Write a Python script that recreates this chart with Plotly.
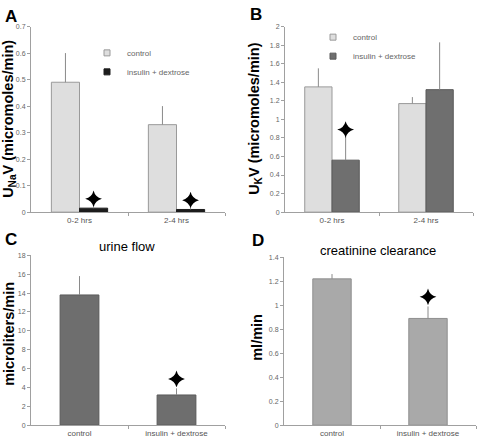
import plotly.graph_objects as go

# ---------------- data ----------------
periods = ["0-2 hrs", "2-4 hrs"]
groups = ["control", "insulin + dextrose"]

una_control = [0.49, 0.33]
una_control_err = [0.11, 0.07]
una_insulin = [0.015, 0.010]
una_insulin_err = [0.005, 0.005]
una_star = [0.05, 0.045]

uk_control = [1.35, 1.17]
uk_control_err = [0.20, 0.07]
uk_insulin = [0.56, 1.32]
uk_insulin_err = [0.25, 0.51]
uk_star = [0.89, None]

flow_values = [13.8, 3.2]
flow_err = [2.0, 0.7]
flow_star = [None, 4.9]

ccr_values = [1.22, 0.89]
ccr_err = [0.04, 0.10]
ccr_star = [None, 1.07]

# ---------------- style ----------------
FONT = "Liberation Sans, Arial, sans-serif"
W, H = 477, 438
BARGAP = 0.42
CTRL = "#dedede"
EDGE = "#9a9a9a"
AXC = "#a0a0a0"
INS_A = "#1c1c1c"
INS_B = "#6f6f6f"

def px_x(a, b):
    return [a / W, b / W]

def px_y(top, bottom):
    return [(H - bottom) / H, (H - top) / H]

xs = list(range(len(periods)))
half = (1 - BARGAP) / 4  # center offset of each bar in a 2-bar group

fig = go.Figure()

def err(vals):
    return dict(type="data", array=vals, arrayminus=[0] * len(vals), symmetric=False,
                color="#8a8a8a", thickness=1, width=0)

# Panel A
fig.add_trace(go.Bar(x=xs, y=una_control, name=groups[0], marker=dict(color=CTRL, line=dict(color=EDGE, width=1)),
                     error_y=err(una_control_err), xaxis="x", yaxis="y", showlegend=False))
fig.add_trace(go.Bar(x=xs, y=una_insulin, name=groups[1], marker=dict(color=INS_A, line=dict(color=INS_A, width=1)),
                     error_y=err(una_insulin_err), xaxis="x", yaxis="y", showlegend=False))
# Panel B
fig.add_trace(go.Bar(x=xs, y=uk_control, name=groups[0], marker=dict(color=CTRL, line=dict(color=EDGE, width=1)),
                     error_y=err(uk_control_err), xaxis="x2", yaxis="y2", showlegend=False))
fig.add_trace(go.Bar(x=xs, y=uk_insulin, name=groups[1], marker=dict(color=INS_B, line=dict(color="#5a5a5a", width=1)),
                     error_y=err(uk_insulin_err), xaxis="x2", yaxis="y2", showlegend=False))
# Panel C
fig.add_trace(go.Bar(x=xs, y=flow_values, width=0.4, marker=dict(color="#6e6e6e", line=dict(color="#5a5a5a", width=1)),
                     error_y=err(flow_err), xaxis="x3", yaxis="y3", showlegend=False))
# Panel D
fig.add_trace(go.Bar(x=xs, y=ccr_values, width=0.4, marker=dict(color="#a9a9a9", line=dict(color="#8f8f8f", width=1)),
                     error_y=err(ccr_err), xaxis="x4", yaxis="y4", showlegend=False))

# legend entries (small square keys, as in the original)
for leg, ax, ay, cols in [("legend", "x", "y", [(CTRL, EDGE), (INS_A, INS_A)]),
                          ("legend2", "x2", "y2", [(CTRL, EDGE), (INS_B, "#5a5a5a")])]:
    for k, (fc, lc) in enumerate(cols):
        fig.add_trace(go.Scatter(x=[None], y=[None], mode="markers", name=groups[k],
                                 marker=dict(symbol="square", size=6, color=fc, line=dict(color=lc, width=1)),
                                 xaxis=ax, yaxis=ay, legend=leg, legendgroup=f"{leg}{k}"))

star = dict(symbol="star-diamond", size=12, color="black", line=dict(width=0))
fig.add_trace(go.Scatter(x=[i + half for i in xs], y=una_star, mode="markers", marker=star,
                         xaxis="x", yaxis="y", showlegend=False, hoverinfo="skip"))
fig.add_trace(go.Scatter(x=[i + half for i in xs], y=uk_star, mode="markers", marker=star,
                         xaxis="x2", yaxis="y2", showlegend=False, hoverinfo="skip"))
fig.add_trace(go.Scatter(x=xs, y=flow_star, mode="markers", marker=star,
                         xaxis="x3", yaxis="y3", showlegend=False, hoverinfo="skip"))
fig.add_trace(go.Scatter(x=xs, y=ccr_star, mode="markers", marker=star,
                         xaxis="x4", yaxis="y4", showlegend=False, hoverinfo="skip"))

def xaxis(domain, anchor, labels):
    return dict(domain=domain, anchor=anchor, range=[-0.5, 1.5], tickvals=xs, ticktext=labels,
                ticks="", showline=True, linecolor=AXC, linewidth=1, showgrid=False, zeroline=False,
                tickfont=dict(size=8, color="#555555", family=FONT),
                minor=dict(tickvals=[0.5, 1.5], ticks="outside", ticklen=3, tickcolor=AXC))

def yaxis(domain, anchor, rng, dtick):
    return dict(domain=domain, anchor=anchor, range=rng, dtick=dtick, ticks="outside", ticklen=3,
                tickcolor=AXC, showline=True, linecolor=AXC, linewidth=1, showgrid=False, zeroline=False,
                tickfont=dict(size=7, color="#666666", family=FONT))

legstyle = dict(xanchor="left", yanchor="top", bgcolor="rgba(0,0,0,0)",
                font=dict(size=8, color="#666666", family=FONT), traceorder="grouped", tracegroupgap=0)

fig.update_layout(
    width=W, height=H, margin=dict(l=0, r=0, t=0, b=0),
    paper_bgcolor="white", plot_bgcolor="white",
    barmode="group", bargap=BARGAP, bargroupgap=0,
    font=dict(family=FONT),
    xaxis=xaxis(px_x(31, 225), "y", periods),
    yaxis=yaxis(px_y(23, 212), "x", [0, 0.7], 0.1),
    xaxis2=xaxis(px_x(285, 473), "y2", periods),
    yaxis2=yaxis(px_y(23, 212), "x2", [0, 2], 0.2),
    xaxis3=xaxis(px_x(31, 225), "y3", groups),
    yaxis3=yaxis(px_y(256, 429), "x3", [0, 18], 2),
    xaxis4=xaxis(px_x(284, 476), "y4", groups),
    yaxis4=yaxis(px_y(258, 429), "x4", [0, 1.4], 0.2),
    legend=dict(x=87 / W, y=1 - 35 / H, **legstyle),
    legend2=dict(x=313 / W, y=1 - 19 / H, **legstyle),
    showlegend=True,
)

ann = []
for txt, x, y in [("A", 11, 13), ("B", 256, 11), ("C", 11, 240), ("D", 258, 241)]:
    ann.append(dict(text=f"<b>{txt}</b>", x=x / W, y=1 - y / H, xref="paper", yref="paper",
                    showarrow=False, font=dict(size=17, color="black", family=FONT),
                    xanchor="center", yanchor="middle"))
for txt, x, y in [("U<sub>Na</sub>V (micromoles/min)", 9, 117), ("U<sub>K</sub>V (micromoles/min)", 255, 117),
                  ("microliters/min", 9, 336), ("ml/min", 257, 340)]:
    ann.append(dict(text=f"<b>{txt}</b>", x=x / W, y=1 - y / H, xref="paper", yref="paper",
                    showarrow=False, textangle=-90, font=dict(size=14.5, color="black", family=FONT),
                    xanchor="center", yanchor="middle"))
for txt, x, y in [("urine flow", 127, 247), ("creatinine clearance", 378, 251)]:
    ann.append(dict(text=txt, x=x / W, y=1 - y / H, xref="paper", yref="paper",
                    showarrow=False, font=dict(size=13, color="black", family=FONT),
                    xanchor="center", yanchor="middle"))
fig.update_layout(annotations=ann)

fig.write_html("out.html", config={"displayModeBar": False},
               post_script="document.body.style.margin='0';document.body.style.overflow='hidden';")
